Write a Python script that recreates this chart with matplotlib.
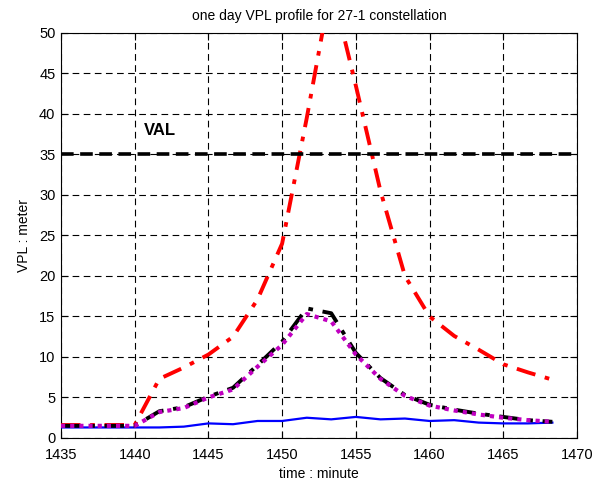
import matplotlib

matplotlib.use("Agg")
import matplotlib.pyplot as plt

plt.rcParams["font.family"] = ["Liberation Sans", "DejaVu Sans"]

# time samples every 100 s (minutes)
minutes = [1435.0, 1436.67, 1438.33, 1440.0, 1441.67, 1443.33, 1445.0, 1446.67, 1448.33,
           1450.0, 1451.67, 1453.33, 1455.0, 1456.67, 1458.33, 1460.0, 1461.67, 1463.33,
           1465.0, 1466.67, 1468.33]

vpl_red = [1.6, 1.6, 1.6, 1.6, 7.3, 8.7, 10.3, 12.5, 17.1,
           24.0, 39.5, 56.0, 43.5, 30.5, 20.0, 15.0, 12.6, 10.9,
           9.1, 8.1, 7.2]
vpl_black = [1.5, 1.5, 1.5, 1.5, 3.3, 3.8, 5.1, 6.2, 9.0,
             11.9, 16.0, 15.4, 10.5, 7.4, 5.3, 4.1, 3.5, 3.0,
             2.6, 2.2, 2.0]
vpl_magenta = [1.5, 1.5, 1.5, 1.5, 3.2, 3.7, 5.0, 6.0, 8.8,
               11.5, 15.3, 14.4, 10.3, 7.3, 5.2, 4.0, 3.4, 2.9,
               2.5, 2.2, 2.0]
vpl_blue = [1.3, 1.3, 1.3, 1.3, 1.3, 1.4, 1.8, 1.7, 2.1,
            2.1, 2.5, 2.3, 2.6, 2.3, 2.4, 2.1, 2.2, 1.9,
            1.8, 1.8, 1.9]

VAL = 35

fig = plt.figure(figsize=(6.05, 4.83), dpi=100)
ax = fig.add_axes([0.1008, 0.0932, 0.8529, 0.8385])

ax.plot(minutes, vpl_blue, color="#0000ff", lw=1.6, zorder=3)
ax.plot(minutes, vpl_red, color="#ff0000", lw=2.8, linestyle=(0, (5, 2.5, 1.2, 2.5)), zorder=4)
ax.plot(minutes, vpl_black, color="black", lw=2.8, linestyle=(0, (5, 2.5, 1.2, 2.5)), zorder=4)
ax.plot(minutes, vpl_magenta, color="#c000c0", lw=3.0, linestyle=(0, (1.0, 1.2)), zorder=5)
ax.axhline(VAL, color="black", lw=2.6, linestyle=(0, (3.5, 1.8)), zorder=4)
ax.text(1440.6, 37.0, "VAL", fontsize=12, fontweight="bold", ha="left", va="bottom")

ax.set_xlim(1435, 1470)
ax.set_ylim(0, 50)
ax.set_xticks([1435, 1440, 1445, 1450, 1455, 1460, 1465, 1470])
ax.set_yticks([0, 5, 10, 15, 20, 25, 30, 35, 40, 45, 50])
ax.grid(True, color="black", lw=0.8, linestyle=(0, (6, 4)))
ax.tick_params(direction="in", top=True, right=True, labelsize=10.5, length=5)
ax.tick_params(axis="x", pad=7)
ax.tick_params(axis="y", pad=4)

ax.set_title("one day VPL profile for 27-1 constellation", fontsize=10, pad=9)
ax.set_xlabel("time : minute", fontsize=10, labelpad=4)
ax.set_ylabel("VPL : meter", fontsize=10, labelpad=6)

fig.savefig("out.png", dpi=100)
